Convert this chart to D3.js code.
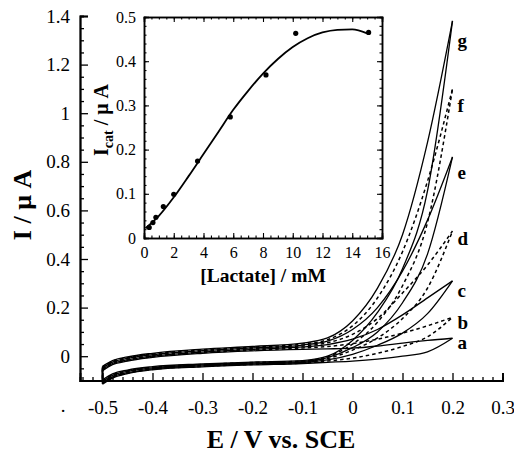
<!DOCTYPE html>
<html><head><meta charset="utf-8">
<script src="https://cdn.jsdelivr.net/npm/d3@7"></script>
<style>body{margin:0;background:#fff}svg{display:block}text{font-family:"Liberation Serif","Times New Roman",serif;fill:#000}</style>
</head><body>
<svg id="c" width="514" height="454"></svg>
<script>
// ---- Data ----
const potentials = [-0.5, -0.48, -0.45, -0.4, -0.3, -0.2, -0.1, -0.05, 0, 0.05, 0.1, 0.15, 0.2];
const curveNames = ["a","b","c","d","e","f","g"];
const curveDashed = [false,true,false,true,false,true,false];
const aUp = [-0.06,-0.035,-0.02,-0.005,0.012,0.022,0.028,0.03,0.033,0.042,0.054,0.065,0.074];
const aDn = [-0.115,-0.09,-0.072,-0.056,-0.044,-0.036,-0.03,-0.025,-0.02,-0.012,0.0,0.018,0.074];
const bUp = [-0.057,-0.032,-0.017,-0.002,0.015,0.025,0.034,0.04,0.052,0.07,0.095,0.125,0.16];
const bDn = [-0.112,-0.087,-0.07,-0.054,-0.042,-0.034,-0.028,-0.02,-0.008,0.012,0.04,0.08,0.16];
const cUp = [-0.054,-0.03,-0.015,0.0,0.017,0.028,0.038,0.048,0.07,0.11,0.17,0.24,0.31];
const cDn = [-0.11,-0.085,-0.068,-0.052,-0.04,-0.032,-0.026,-0.015,0.008,0.045,0.095,0.175,0.31];
const dUp = [-0.051,-0.027,-0.012,0.003,0.02,0.031,0.042,0.055,0.09,0.155,0.26,0.375,0.515];
const dDn = [-0.107,-0.082,-0.065,-0.05,-0.038,-0.03,-0.024,-0.01,0.025,0.075,0.155,0.28,0.515];
const eUp = [-0.048,-0.024,-0.009,0.006,0.023,0.034,0.046,0.062,0.11,0.2,0.35,0.56,0.82];
const eDn = [-0.104,-0.079,-0.062,-0.048,-0.036,-0.028,-0.022,-0.006,0.035,0.1,0.22,0.42,0.82];
const fUp = [-0.045,-0.021,-0.006,0.009,0.026,0.037,0.05,0.068,0.125,0.24,0.43,0.72,1.1];
const fDn = [-0.1,-0.076,-0.06,-0.046,-0.034,-0.026,-0.02,-0.002,0.05,0.14,0.29,0.55,1.1];
const gUp = [-0.042,-0.018,-0.003,0.012,0.029,0.04,0.054,0.075,0.145,0.28,0.5,0.88,1.38];
const gDn = [-0.097,-0.073,-0.057,-0.043,-0.032,-0.024,-0.018,0.0,0.065,0.18,0.36,0.68,1.38];
const upperBranches = [aUp,bUp,cUp,dUp,eUp,fUp,gUp];
const lowerBranches = [aDn,bDn,cDn,dDn,eDn,fDn,gDn];
const labelCurrents = [0.056,0.139,0.27,0.485,0.757,1.033,1.30];
const xTicks = [-0.5,-0.4,-0.3,-0.2,-0.1,0,0.1,0.2,0.3];
const yTicks = [0,0.2,0.4,0.6,0.8,1,1.2,1.4];

const lactate = [0.35, 0.6, 0.8, 1.3, 2, 3.6, 5.8, 8.2, 10.2, 15.1];
const icat = [0.024, 0.035, 0.047, 0.071, 0.099, 0.174, 0.274, 0.369, 0.463, 0.465];
const fitLactate = [0.1, 1, 2, 3, 4, 5, 6, 7, 8, 9, 10, 11, 12, 13, 14, 15];
const fitIcat = [0.022, 0.05, 0.092, 0.14, 0.19, 0.24, 0.29, 0.333, 0.372, 0.405, 0.432, 0.452, 0.465, 0.471, 0.472, 0.463];
const insetXTicks = [0,2,4,6,8,10,12,14,16];
const insetYTicks = [0,0.1,0.2,0.3,0.4,0.5];

const fmt1 = d => d === 0 ? "0" : (Number.isInteger(d) ? String(d) : d3.format(".1f")(d).replace("\u2212","-"));

// ---- Main chart ----
const svg = d3.select("#c");
const x = d3.scaleLinear().domain([-0.545, 0.3]).range([80, 502.5]);
const y = d3.scaleLinear().domain([-0.1, 1.4]).range([380.5, 16]);

const gx = svg.append("g").attr("transform","translate(0,380.5)");
gx.call(d3.axisBottom(x).tickValues(d3.range(-0.54,0.301,0.02)).tickSize(-3.5).tickFormat(""));
gx.call(g=>g.selectAll(".tick").filter(d=>xTicks.some(t=>Math.abs(t-d)<1e-6)).remove());
const gx2 = svg.append("g").attr("transform","translate(0,380.5)");
gx2.call(d3.axisBottom(x).tickValues(xTicks).tickSize(-7.5).tickPadding(20).tickFormat(fmt1));
[gx,gx2].forEach(g=>{g.select(".domain").attr("stroke-width",1.8);g.selectAll("line").attr("stroke-width",1.3);g.selectAll("text").attr("font-size",19).attr("font-family","Liberation Serif");});

const gy = svg.append("g").attr("transform","translate(80,0)");
gy.call(d3.axisLeft(y).tickValues(d3.range(-0.1,1.401,0.05)).tickSize(-4).tickFormat(""));
gy.call(g=>g.selectAll(".tick").filter(d=>yTicks.some(t=>Math.abs(t-d)<1e-6)).remove());
const gy2 = svg.append("g").attr("transform","translate(80,0)");
gy2.call(d3.axisLeft(y).tickValues(yTicks).tickSize(-8).tickPadding(10).tickFormat(fmt1));
[gy,gy2].forEach(g=>{g.select(".domain").attr("stroke-width",1.8);g.selectAll("line").attr("stroke-width",1.3);g.selectAll("text").attr("font-size",19).attr("font-family","Liberation Serif");});

svg.append("text").attr("x",63).attr("y",412).attr("font-size",19).attr("text-anchor","middle").text(".");

svg.append("text").attr("x",281).attr("y",448).attr("text-anchor","middle")
  .attr("font-size",26).attr("font-weight","bold").text("E / V vs. SCE");
svg.append("text").attr("transform","translate(31,205) rotate(-90)").attr("text-anchor","middle")
  .attr("font-size",26).attr("font-weight","bold").text("I / μ A");

// curves
const line = d3.line().x(d=>x(d[0])).y(d=>y(d[1])).curve(d3.curveMonotoneX);
const straight = d3.line().x(d=>x(d[0])).y(d=>y(d[1]));
const curvesG = svg.append("g").attr("fill","none").attr("stroke","#000");
curveNames.forEach((n,i)=>{
  const up = potentials.map((e,j)=>[e, upperBranches[i][j]]);
  const dn = potentials.map((e,j)=>[e, lowerBranches[i][j]]);
  const g = curvesG.append("g").attr("stroke-width", curveDashed[i]?1.5:1.3)
    .attr("stroke-dasharray", curveDashed[i]?"3.5,3":null);
  g.append("path").attr("d", line(up));
  g.append("path").attr("d", line(dn));
  g.append("path").attr("d", straight([up[0], dn[0]]));
  svg.append("text").attr("x", x(0.2)+5).attr("y", y(labelCurrents[i])).attr("dy","0.35em")
    .attr("font-size",19).attr("font-weight","bold").text(n);
});

// ---- Inset ----
const ix = d3.scaleLinear().domain([0,16]).range([144,382]);
const iy = d3.scaleLinear().domain([0,0.5]).range([238,17]);
svg.append("rect").attr("x",144).attr("y",17).attr("width",238).attr("height",221).attr("fill","#fff");

function insetAxis(axisFn, scale, vals, size, tr, fmt, pad){
  const g = svg.append("g").attr("transform",tr);
  g.call(axisFn(scale).tickValues(vals).tickSize(size).tickPadding(pad||6).tickFormat(fmt||""));
  g.select(".domain").attr("stroke-width",1.5);
  g.selectAll("line").attr("stroke-width",1.1);
  g.selectAll("text").attr("font-size",16).attr("font-family","Liberation Serif");
  return g;
}
const ixMinor = d3.range(0,16.01,0.5), iyMinor = d3.range(0,0.501,0.02);
insetAxis(d3.axisBottom, ix, ixMinor, -2.5, "translate(0,238)");
insetAxis(d3.axisBottom, ix, insetXTicks, -5, "translate(0,238)", fmt1, 9);
insetAxis(d3.axisTop, ix, ixMinor, -2.5, "translate(0,17)");
insetAxis(d3.axisTop, ix, insetXTicks, -5, "translate(0,17)");
insetAxis(d3.axisLeft, iy, iyMinor, -2.5, "translate(144,0)");
insetAxis(d3.axisLeft, iy, insetYTicks, -5, "translate(144,0)", fmt1, 8);
insetAxis(d3.axisRight, iy, iyMinor, -2.5, "translate(382,0)");
insetAxis(d3.axisRight, iy, insetYTicks, -5, "translate(382,0)");

svg.append("path").attr("fill","none").attr("stroke","#000").attr("stroke-width",1.8)
  .attr("d", d3.line().x(d=>ix(d[0])).y(d=>iy(d[1])).curve(d3.curveMonotoneX)(fitLactate.map((v,i)=>[v,fitIcat[i]])));
svg.append("g").selectAll("circle").data(lactate).join("circle")
  .attr("cx",d=>ix(d)).attr("cy",(d,i)=>iy(icat[i])).attr("r",2.6).attr("fill","#000");

svg.append("text").attr("x",263).attr("y",282).attr("text-anchor","middle")
  .attr("font-size",19.5).attr("font-weight","bold").text("[Lactate] / mM");
const yt = svg.append("text").attr("transform","translate(108,120) rotate(-90)").attr("text-anchor","middle")
  .attr("font-size",20).attr("font-weight","bold");
yt.append("tspan").text("I");
yt.append("tspan").attr("font-size",14).attr("dy",5).text("cat");
yt.append("tspan").attr("dy",-5).text(" / μ A");
</script>
</body></html>
